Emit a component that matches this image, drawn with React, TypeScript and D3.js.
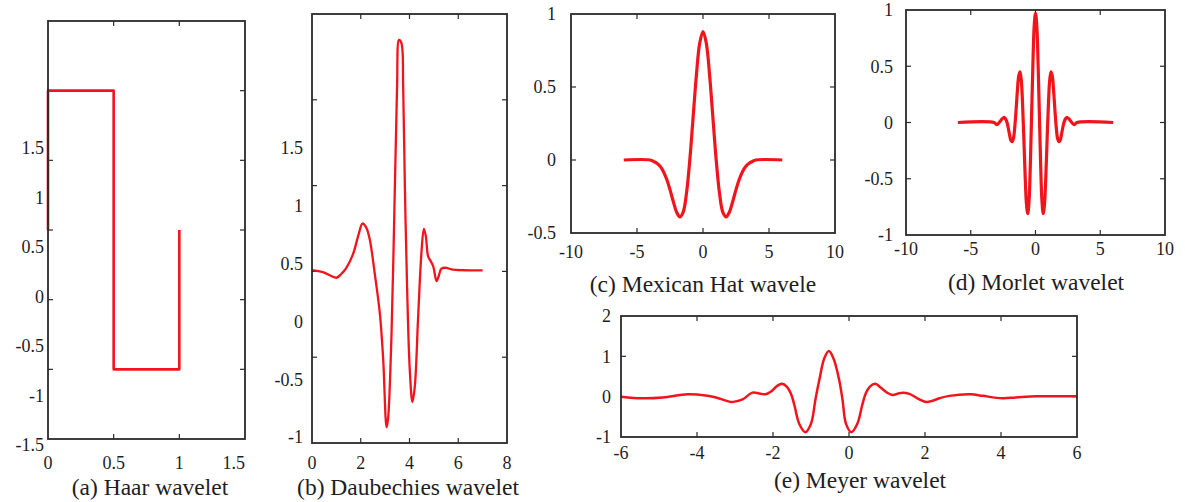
import React from 'react';
import * as d3 from 'd3';

const FONT = '"Liberation Serif", "Times New Roman", Times, "DejaVu Serif", serif';
const RED = '#f2141c';
const INK = '#1e1e1e';
const FRAME = '#2a2a2a';

// (a) Haar wavelet
const haarX = [0, 0, 0.5, 0.5, 1, 1];
const haarY = [0, 1, 1, -1, -1, 0];
const haarXLabels = [0, 0.5, 1, 1.5];
const haarYLabels = [1.5, 1, 0.5, 0, -0.5, -1, -1.5];
const haarXTicks = [0.5, 1];
const haarYTicks = [-1, -0.5, 0, 0.5, 1];

// (b) Daubechies wavelet
const dbX = [0, 0.45, 1.0, 1.2, 1.41, 1.68, 1.93, 2.07, 2.23, 2.37, 2.57, 2.78, 2.92, 3.06, 3.12, 3.26, 3.40, 3.49, 3.57, 3.67, 3.74, 3.81, 3.90, 4.01, 4.12, 4.22, 4.35, 4.49, 4.59, 4.67, 4.76, 4.83, 4.97, 5.11, 5.20, 5.31, 5.52, 5.72, 7.0];
const dbY = [0.008, -0.004, -0.037, -0.015, 0.021, 0.099, 0.225, 0.279, 0.254, 0.186, -0.008, -0.24, -0.51, -0.909, -0.86, -0.376, 0.496, 1.077, 1.349, 1.33, 1.077, 0.496, -0.085, -0.57, -0.76, -0.667, -0.279, 0.109, 0.248, 0.205, 0.089, 0.07, 0.031, -0.056, -0.027, 0.016, 0.021, 0.012, 0.006];
const dbXLabels = [0, 2, 4, 6, 8];
const dbYLabels = [1.5, 1, 0.5, 0, -0.5, -1];
const dbXTicks = [2, 4, 6];
const dbYTicks = [-0.5, 0, 0.5, 1];

// (c) Mexican Hat wavelet
const hatX = [-6, -4, -3.75, -3.5, -3.25, -3, -2.75, -2.5, -2.25, -2, -1.75, -1.5, -1.25, -1, -0.75, -0.5, -0.25, 0, 0.25, 0.5, 0.75, 1, 1.25, 1.5, 1.75, 2, 2.25, 2.5, 2.75, 3, 3.25, 3.5, 3.75, 4, 6];
const hatY = [0, 0, -0.01, -0.022, -0.043, -0.078, -0.132, -0.203, -0.285, -0.357, -0.39, -0.357, -0.227, 0, 0.291, 0.582, 0.8, 0.88, 0.8, 0.582, 0.291, 0, -0.227, -0.357, -0.39, -0.357, -0.285, -0.203, -0.132, -0.078, -0.043, -0.022, -0.01, 0, 0];
const hatXLabels = [-10, -5, 0, 5, 10];
const hatYLabels = [1, 0.5, 0, -0.5];
const hatXTicks = [-5, 0, 5];
const hatYTicks = [0, 0.5];

// (d) Morlet wavelet
const morletX = [-6, -3.2, -3.0, -2.8, -2.6, -2.5, -2.4, -2.3, -2.2, -2.1, -2.0, -1.9, -1.8, -1.7, -1.6, -1.5, -1.4, -1.3, -1.2, -1.1, -1.0, -0.9, -0.8, -0.7, -0.6, -0.5, -0.4, -0.3, -0.2, -0.1, 0, 0.1, 0.2, 0.3, 0.4, 0.5, 0.6, 0.7, 0.8, 0.9, 1.0, 1.1, 1.2, 1.3, 1.4, 1.5, 1.6, 1.7, 1.8, 1.9, 2.0, 2.1, 2.2, 2.3, 2.4, 2.5, 2.6, 2.8, 3.0, 3.2, 6];
const morletY = [0, 0, -0.02, 0.0, 0.03, 0.04, 0.045, 0.03, 0.0, -0.05, -0.11, -0.16, -0.17, -0.14, -0.04, 0.11, 0.28, 0.41, 0.45, 0.38, 0.17, -0.14, -0.47, -0.72, -0.81, -0.70, -0.38, 0.07, 0.52, 0.86, 0.97, 0.86, 0.52, 0.07, -0.38, -0.70, -0.81, -0.72, -0.47, -0.14, 0.17, 0.38, 0.45, 0.41, 0.28, 0.11, -0.04, -0.14, -0.17, -0.16, -0.11, -0.05, 0.0, 0.03, 0.045, 0.04, 0.03, 0.0, -0.02, 0, 0];
const morletXLabels = [-10, -5, 0, 5, 10];
const morletYLabels = [1, 0.5, 0, -0.5, -1];
const morletXTicks = [-5, 0, 5];
const morletYTicks = [-0.5, 0, 0.5];

// (e) Meyer wavelet
const meyerX = [-6, -5.43, -4.9, -4.25, -3.77, -3.5, -3.11, -2.95, -2.8, -2.54, -2.36, -2.2, -2.05, -1.9, -1.76, -1.64, -1.53, -1.44, -1.31, -1.15, -1.0, -0.88, -0.78, -0.65, -0.53, -0.41, -0.26, -0.17, -0.08, 0.06, 0.22, 0.35, 0.44, 0.55, 0.69, 0.84, 1.0, 1.15, 1.3, 1.41, 1.59, 1.8, 2.03, 2.2, 2.38, 2.64, 3.21, 3.52, 4.04, 4.39, 4.92, 5.4, 6];
const meyerY = [0, -0.04, -0.02, 0.06, 0.03, -0.02, -0.13, -0.11, -0.07, 0.1, 0.08, 0.06, 0.13, 0.26, 0.32, 0.25, 0.08, -0.2, -0.67, -0.88, -0.67, -0.05, 0.42, 0.95, 1.13, 0.95, 0.42, -0.08, -0.67, -0.88, -0.67, -0.2, 0.08, 0.25, 0.32, 0.22, 0.1, 0.04, 0.08, 0.1, 0.07, -0.04, -0.13, -0.1, -0.04, 0.02, 0.06, 0.02, -0.04, -0.02, 0.01, 0.01, 0.01];
const meyerXLabels = [-6, -4, -2, 0, 2, 4, 6];
const meyerYLabels = [2, 1, 0, -1];
const meyerXTicks = [-4, -2, 0, 2, 4];
const meyerYTicks = [0, 1];

type Cfg = {
  xs: number[]; ys: number[];
  xDomain: [number, number]; yDomain: [number, number];
  left: number; right: number; top: number; bottom: number;
  xTicks: number[]; yTicks: number[];
  xLabels: number[]; yLabels: number[];
  yLabelDomain?: [number, number]; yLabelRange?: [number, number];
  yLabelGap: number; xLabelY: number;
  lastXLabelEnd?: boolean;
  title: string; titleX: number; titleY: number;
  curve: any; width: number;
};

const TICK = 5;

function Panel({ c }: { c: Cfg }) {
  const x = d3.scaleLinear().domain(c.xDomain).range([c.left, c.right]);
  const y = d3.scaleLinear().domain(c.yDomain).range([c.bottom, c.top]);
  const yl = c.yLabelDomain ? d3.scaleLinear().domain(c.yLabelDomain).range(c.yLabelRange as [number, number]) : y;
  const idx = d3.range(c.xs.length);
  const line = d3.line<number>()
    .x((i) => x(c.xs[i]))
    .y((i) => y(c.ys[i]))
    .curve(c.curve);
  return (
    <g>
      {c.xTicks.map((t) => (
        <g key={'xt' + t}>
          <line x1={x(t)} x2={x(t)} y1={c.bottom} y2={c.bottom - TICK} stroke={FRAME} strokeWidth={1.2} />
          <line x1={x(t)} x2={x(t)} y1={c.top} y2={c.top + TICK} stroke={FRAME} strokeWidth={1.2} />
        </g>
      ))}
      {c.yTicks.map((t) => (
        <g key={'yt' + t}>
          <line x1={c.left} x2={c.left + TICK} y1={y(t)} y2={y(t)} stroke={FRAME} strokeWidth={1.2} />
          <line x1={c.right} x2={c.right - TICK} y1={y(t)} y2={y(t)} stroke={FRAME} strokeWidth={1.2} />
        </g>
      ))}
      <path d={line(idx) || ''} fill="none" stroke={RED} strokeWidth={c.width} strokeLinejoin="round" strokeLinecap="butt" />
      <rect x={c.left} y={c.top} width={c.right - c.left} height={c.bottom - c.top} fill="none" stroke={FRAME} strokeWidth={1.8} />
      {c.yLabels.map((v) => (
        <text key={'yl' + v} x={c.left - c.yLabelGap} y={yl(v)} dy="0.35em" textAnchor="end"
          fontFamily={FONT} fontSize={18} fill={INK}>{String(v)}</text>
      ))}
      {c.xLabels.map((v, i) => {
        const last = c.lastXLabelEnd && i === c.xLabels.length - 1;
        return (
          <text key={'xl' + v} x={x(v)} y={c.xLabelY} dy="0.35em" textAnchor={last ? 'end' : 'middle'}
            fontFamily={FONT} fontSize={18} fill={INK}>{String(v)}</text>
        );
      })}
      <text x={c.titleX} y={c.titleY} textAnchor="middle" fontFamily={FONT} fontSize={23.5} fill={INK}>{c.title}</text>
    </g>
  );
}

const smooth = d3.curveCatmullRom.alpha(0.5);

const panels: Cfg[] = [
  {
    xs: haarX, ys: haarY, xDomain: [0, 1.5], yDomain: [-1.5, 1.5],
    left: 48, right: 245, top: 21, bottom: 439,
    xTicks: haarXTicks, yTicks: haarYTicks, xLabels: haarXLabels, yLabels: haarYLabels,
    yLabelDomain: [-1.5, 1.5], yLabelRange: [445, 148],
    yLabelGap: 4, xLabelY: 463, lastXLabelEnd: true,
    title: '(a) Haar wavelet', titleX: 150, titleY: 495, curve: d3.curveLinear, width: 2.6,
  },
  {
    xs: dbX, ys: dbY, xDomain: [0, 8], yDomain: [-1, 1.5],
    left: 312, right: 507, top: 14, bottom: 443,
    xTicks: dbXTicks, yTicks: dbYTicks, xLabels: dbXLabels, yLabels: dbYLabels,
    yLabelDomain: [-1, 1.5], yLabelRange: [437, 148],
    yLabelGap: 9, xLabelY: 463,
    title: '(b) Daubechies wavelet', titleX: 408, titleY: 495, curve: smooth, width: 2.3,
  },
  {
    xs: hatX, ys: hatY, xDomain: [-10, 10], yDomain: [-0.5, 1],
    left: 571, right: 835, top: 14, bottom: 233,
    xTicks: hatXTicks, yTicks: hatYTicks, xLabels: hatXLabels, yLabels: hatYLabels,
    yLabelGap: 15, xLabelY: 252,
    title: '(c) Mexican Hat wavele', titleX: 703, titleY: 292, curve: smooth, width: 3.2,
  },
  {
    xs: morletX, ys: morletY, xDomain: [-10, 10], yDomain: [-1, 1],
    left: 906, right: 1165, top: 10, bottom: 235,
    xTicks: morletXTicks, yTicks: morletYTicks, xLabels: morletXLabels, yLabels: morletYLabels,
    yLabelGap: 13, xLabelY: 249,
    title: '(d) Morlet wavelet', titleX: 1036, titleY: 290, curve: smooth, width: 3.2,
  },
  {
    xs: meyerX, ys: meyerY, xDomain: [-6, 6], yDomain: [-1, 2],
    left: 621, right: 1077, top: 316, bottom: 437,
    xTicks: meyerXTicks, yTicks: meyerYTicks, xLabels: meyerXLabels, yLabels: meyerYLabels,
    yLabelGap: 10, xLabelY: 453,
    title: '(e) Meyer wavelet', titleX: 860, titleY: 488, curve: smooth, width: 2.5,
  },
];

export default function App() {
  return (
    <svg width={1185} height={502} style={{ position: 'absolute', left: 0, top: 0, background: '#fff' }}>
      <rect x={0} y={0} width={1185} height={502} fill="#fff" />
      {panels.map((p) => <Panel key={p.title} c={p} />)}
    </svg>
  );
}
